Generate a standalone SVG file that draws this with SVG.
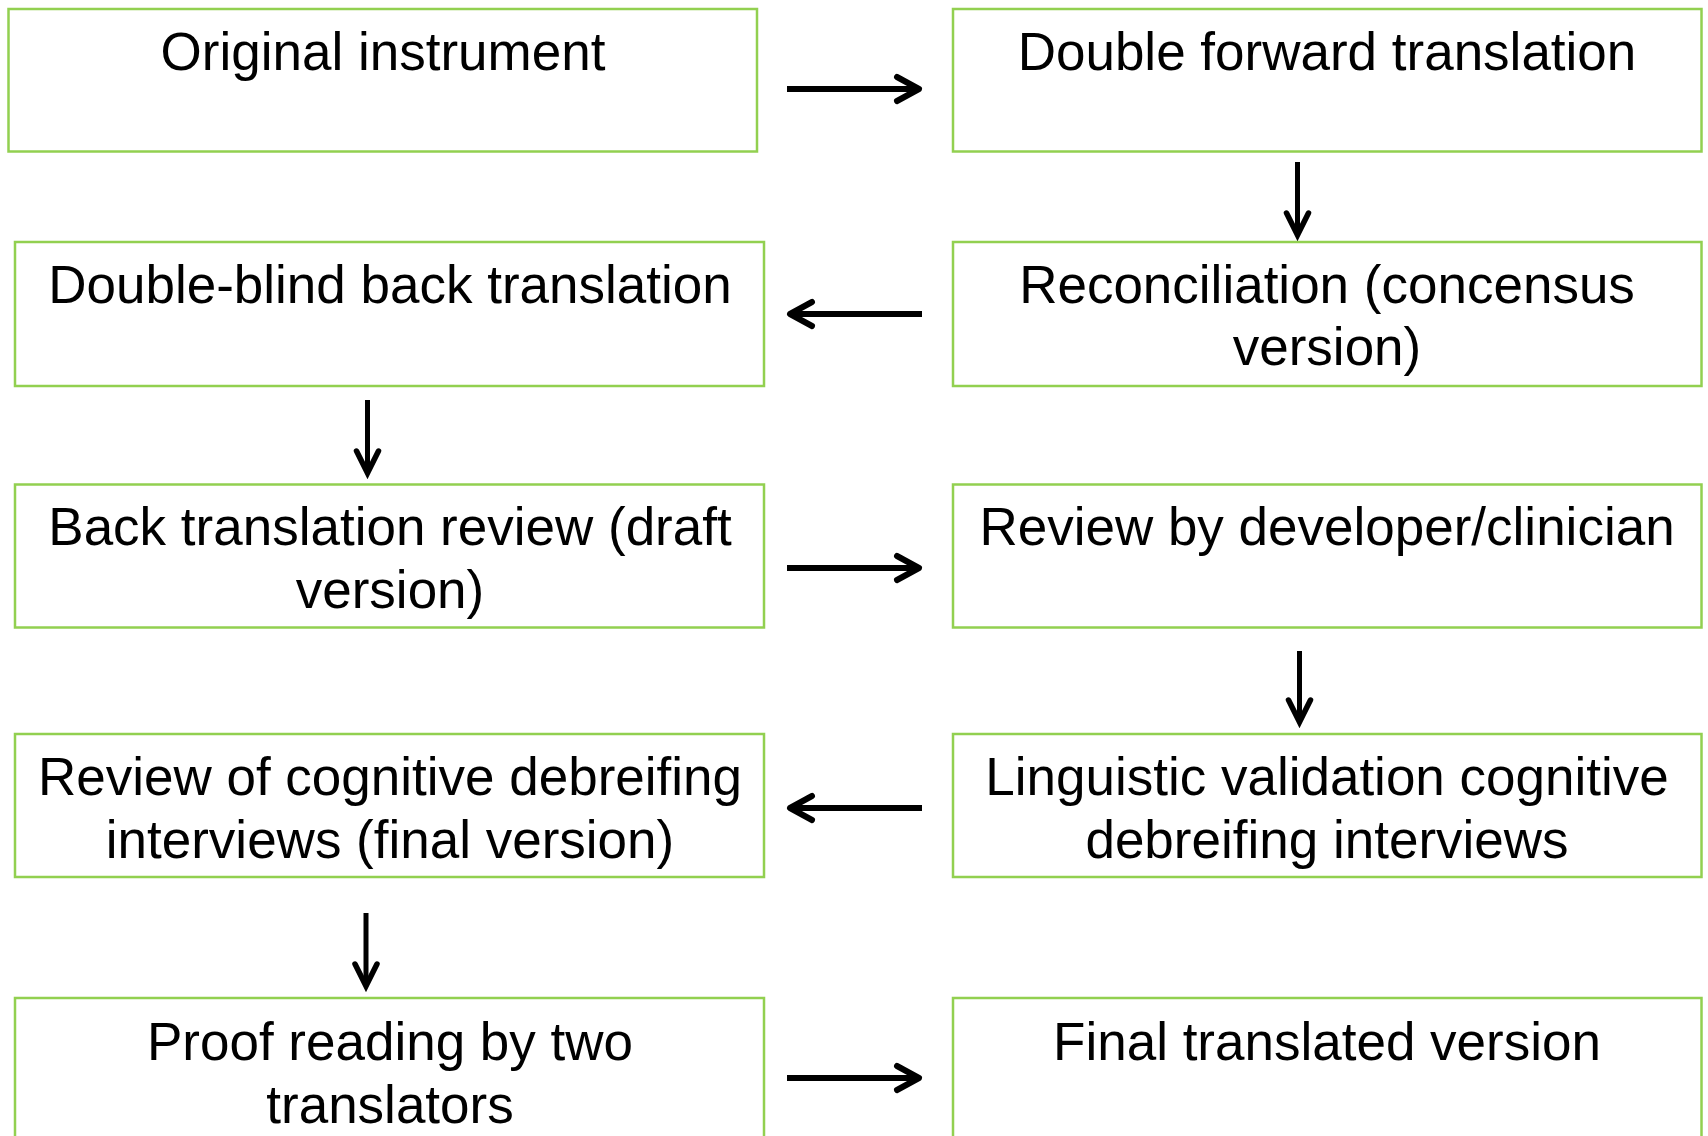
<svg xmlns="http://www.w3.org/2000/svg" width="1708" height="1136" viewBox="0 0 1708 1136">
<style>
.box{fill:#fff;stroke:#92D050;stroke-width:2.5}
.t{font-family:"Liberation Sans",Arial,sans-serif;font-size:53px;fill:#000;text-anchor:middle}
.h{stroke:#000;stroke-width:6;fill:none}
.v{stroke:#000;stroke-width:5;fill:none}
</style>
<defs>
<marker id="ah" markerUnits="userSpaceOnUse" viewBox="-30 -16 34 32" refX="0" refY="0" markerWidth="34" markerHeight="32" orient="auto" overflow="visible">
<path d="M-22,-12 L0,0 L-22,12" fill="none" stroke="#000" stroke-width="6" stroke-linecap="round" stroke-linejoin="round"/>
</marker>
<marker id="av" markerUnits="userSpaceOnUse" viewBox="-30 -16 34 32" refX="0" refY="0" markerWidth="34" markerHeight="32" orient="auto" overflow="visible">
<path d="M-22,-11 L0,0 L-22,11" fill="none" stroke="#000" stroke-width="5.5" stroke-linecap="round" stroke-linejoin="miter"/>
</marker>
</defs>
<rect width="1708" height="1136" fill="#fff"/>
<g id="n1"><rect class="box" x="8.5" y="9" width="748.5" height="142.5"/><text class="t" x="383" y="70">Original instrument</text></g>
<g id="n2"><rect class="box" x="953" y="9" width="748.5" height="142.5"/><text class="t" x="1327" y="70">Double forward translation</text></g>
<g id="n3"><rect class="box" x="953" y="242" width="748.5" height="144"/><text class="t" x="1327" y="303">Reconciliation (concensus</text><text class="t" x="1327" y="365">version)</text></g>
<g id="n4"><rect class="box" x="15" y="242" width="749" height="144"/><text class="t" x="390" y="303">Double-blind back translation</text></g>
<g id="n5"><rect class="box" x="15" y="484.5" width="749" height="143"/><text class="t" x="390" y="545">Back translation review (draft</text><text class="t" x="390" y="608">version)</text></g>
<g id="n6"><rect class="box" x="953" y="484.5" width="748.5" height="143"/><text class="t" x="1327" y="545">Review by developer/clinician</text></g>
<g id="n7"><rect class="box" x="953" y="734" width="748.5" height="143"/><text class="t" x="1327" y="795">Linguistic validation cognitive</text><text class="t" x="1327" y="858">debreifing interviews</text></g>
<g id="n8"><rect class="box" x="15" y="734" width="749" height="143"/><text class="t" x="390" y="795">Review of cognitive debreifing</text><text class="t" x="390" y="858">interviews (final version)</text></g>
<g id="n9"><rect class="box" x="15" y="998" width="749" height="160"/><text class="t" x="390" y="1060">Proof reading by two</text><text class="t" x="390" y="1123">translators</text></g>
<g id="n10"><rect class="box" x="953" y="998" width="748.5" height="160"/><text class="t" x="1327" y="1060">Final translated version</text></g>
<g id="connectors">
<line class="h" x1="787" y1="89" x2="919" y2="89" marker-end="url(#ah)"/>
<line class="v" x1="1297.5" y1="162" x2="1297.5" y2="235" marker-end="url(#av)"/>
<line class="h" x1="922" y1="314" x2="790" y2="314" marker-end="url(#ah)"/>
<line class="v" x1="367.5" y1="400" x2="367.5" y2="473" marker-end="url(#av)"/>
<line class="h" x1="787" y1="568" x2="919" y2="568" marker-end="url(#ah)"/>
<line class="v" x1="1299.5" y1="651" x2="1299.5" y2="722" marker-end="url(#av)"/>
<line class="h" x1="922" y1="808" x2="790" y2="808" marker-end="url(#ah)"/>
<line class="v" x1="366" y1="913" x2="366" y2="986" marker-end="url(#av)"/>
<line class="h" x1="787" y1="1078" x2="919" y2="1078" marker-end="url(#ah)"/>
</g>
</svg>
